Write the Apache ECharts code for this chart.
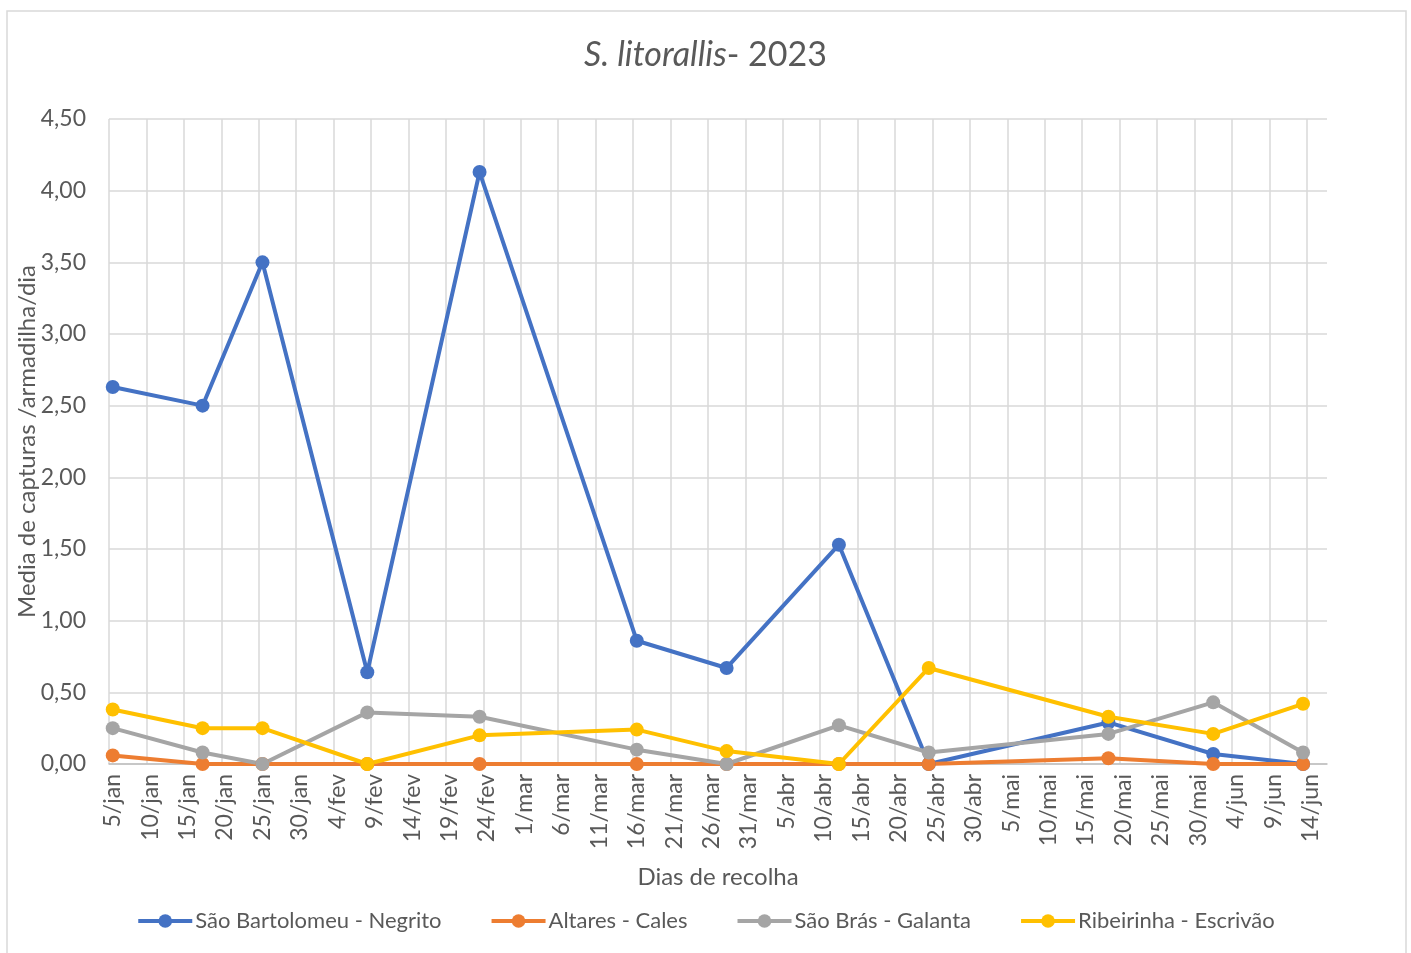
<!DOCTYPE html>
<html>
<head>
<meta charset="utf-8">
<script src="https://cdn.jsdelivr.net/npm/echarts@6/dist/echarts.min.js"></script>
<style>html,body{margin:0;padding:0;background:#fff}#c{width:1411px;height:953px}</style>
</head>
<body>
<div id="c"></div>
<script>
const dates = ['2023-01-05','2023-01-17','2023-01-25','2023-02-08','2023-02-23','2023-03-16','2023-03-28','2023-04-12','2023-04-24','2023-05-18','2023-06-01','2023-06-13'];
const saoBartolomeu = [2.63, 2.50, 3.50, 0.64, 4.13, 0.86, 0.67, 1.53, 0.00, 0.29, 0.07, 0.00];
const altares       = [0.06, 0.00, 0.00, 0.00, 0.00, 0.00, 0.00, 0.00, 0.00, 0.04, 0.00, 0.00];
const saoBras       = [0.25, 0.08, 0.00, 0.36, 0.33, 0.10, 0.00, 0.27, 0.08, 0.21, 0.43, 0.08];
const ribeirinha    = [0.38, 0.25, 0.25, 0.00, 0.20, 0.24, 0.09, 0.00, 0.67, 0.33, 0.21, 0.42];
const seriesNames = ['São Bartolomeu - Negrito','Altares - Cales','São Brás - Galanta','Ribeirinha - Escrivão'];
const tickLabels = ['5/jan','10/jan','15/jan','20/jan','25/jan','30/jan','4/fev','9/fev','14/fev','19/fev','24/fev','1/mar','6/mar','11/mar','16/mar','21/mar','26/mar','31/mar','5/abr','10/abr','15/abr','20/abr','25/abr','30/abr','5/mai','10/mai','15/mai','20/mai','25/mai','30/mai','4/jun','9/jun','14/jun'];

const colors = ['#4472C4','#ED7D31','#A5A5A5','#FFC000'];
const txt = '#595959';
const FONT = 'Lato';

// axis value = days since start of 5/jan; points sit at the middle of their day
function dayValue(s){
  const p = s.split('-').map(Number);
  const doy = (Date.UTC(p[0], p[1]-1, p[2]) - Date.UTC(p[0], 0, 0)) / 86400000;
  return doy - 5 + 0.5;
}
const xs = dates.map(dayValue);
const lastTick = (tickLabels.length - 1) * 5;   // 160 days
const axisSpan = 162.7;                          // axis runs a little past the last tick
const labelVals = tickLabels.map((_, i) => i * 5 + 0.5);

const gridLeft = 109, gridRight = 84, gridTop = 119, gridBottom = 189;
const plotW = 1411 - gridLeft - gridRight;

function mk(name, vals, i){
  return {
    name: name, type: 'line', xAxisIndex: 0, yAxisIndex: 0,
    data: vals.map((v, k) => [xs[k], v]),
    symbol: 'circle', symbolSize: 14,
    lineStyle: {width: 4, color: colors[i]},
    itemStyle: {color: colors[i]},
    emphasis: {disabled: true},
    animation: false
  };
}

const chart = echarts.init(document.getElementById('c'), null, {renderer: 'canvas'});
chart.setOption({
  backgroundColor: '#fff',
  color: colors,
  textStyle: {fontFamily: FONT},
  graphic: [{
    type: 'rect', silent: true, z: -10,
    shape: {x: 7, y: 11, width: 1399, height: 970},
    style: {fill: 'none', stroke: '#d9d9d9', lineWidth: 1.5}
  }],
  title: {
    text: '{i|S. litorallis}{n|- 2023}',
    left: 'center', top: 33,
    textStyle: {
      rich: {
        i: {fontFamily: FONT, fontSize: 34, fontStyle: 'italic', fontWeight: 'normal', color: txt},
        n: {fontFamily: FONT, fontSize: 34, fontWeight: 'normal', color: txt}
      }
    }
  },
  grid: [
    {left: gridLeft, right: gridRight, top: gridTop, bottom: gridBottom, containLabel: false},
    {left: gridLeft, width: plotW * lastTick / axisSpan, top: gridTop, bottom: gridBottom, containLabel: false}
  ],
  legend: {
    top: 905, left: 'center',
    itemWidth: 54, itemHeight: 17, itemGap: 48,
    lineStyle: {width: 4},
    textStyle: {fontFamily: FONT, fontSize: 22, color: txt, padding: [0,0,0,-2]},
    data: seriesNames
  },
  xAxis: [{
    gridIndex: 0, type: 'value', min: 0, max: axisSpan, interval: 5,
    name: 'Dias de recolha', nameLocation: 'middle', nameGap: 101, nameMoveOverlap: false,
    nameTextStyle: {fontFamily: FONT, fontSize: 24, color: txt},
    axisLine: {show: true, lineStyle: {color: '#bfbfbf', width: 1.5}},
    axisTick: {show: false},
    splitLine: {show: false},
    axisLabel: {
      customValues: labelVals,
      rotate: 90, margin: 10, fontFamily: FONT, fontSize: 23, color: txt,
      formatter: function(v){ return tickLabels[Math.round((v - 0.5) / 5)] || ''; }
    }
  }, {
    gridIndex: 1, type: 'value', min: 0, max: lastTick, interval: 5,
    axisLine: {show: false}, axisTick: {show: false}, axisLabel: {show: false},
    splitLine: {show: true, lineStyle: {color: '#d9d9d9', width: 1.5}}
  }],
  yAxis: [{
    gridIndex: 0, type: 'value', min: 0, max: 4.5, interval: 0.5,
    name: 'Media de capturas /armadilha/dia', nameLocation: 'middle', nameGap: 70, nameMoveOverlap: false,
    nameTextStyle: {fontFamily: FONT, fontSize: 24, color: txt},
    axisLine: {show: false}, axisTick: {show: false},
    splitLine: {show: true, lineStyle: {color: '#d9d9d9', width: 1.5}},
    axisLabel: {
      margin: 23, fontFamily: FONT, fontSize: 23, color: txt,
      formatter: function(v){ return v.toFixed(2).replace('.', ','); }
    }
  }, {
    gridIndex: 1, type: 'value', min: 0, max: 4.5, show: false,
    splitLine: {show: false}
  }],
  series: [
    mk(seriesNames[0], saoBartolomeu, 0),
    mk(seriesNames[1], altares, 1),
    mk(seriesNames[2], saoBras, 2),
    mk(seriesNames[3], ribeirinha, 3)
  ]
});
</script>
</body>
</html>
